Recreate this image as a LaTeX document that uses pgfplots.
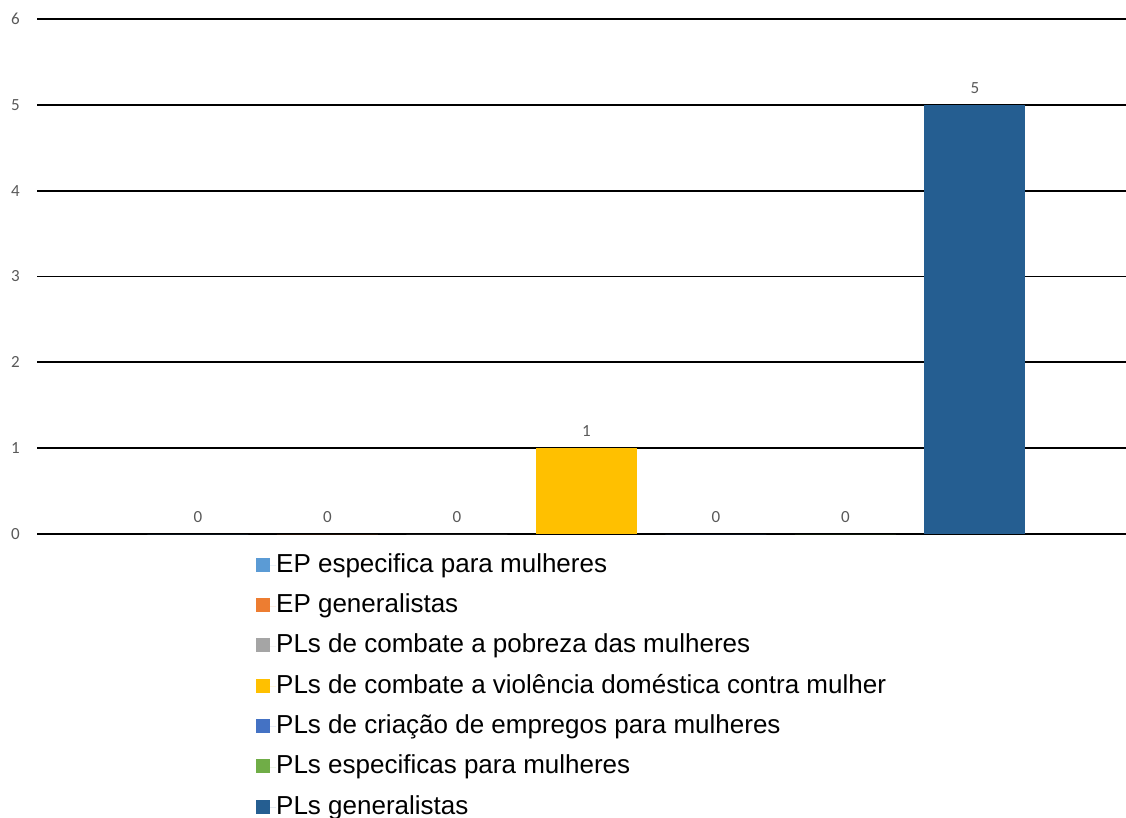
\documentclass[border=0pt]{standalone}
\usepackage{pgfplots}
\pgfplotsset{compat=1.18}
\usepackage{fontspec}
\setmainfont{Liberation Sans}
\newfontfamily\calibri{Carlito}
\definecolor{cA}{HTML}{5B9BD5}
\definecolor{cB}{HTML}{ED7D31}
\definecolor{cC}{HTML}{A5A5A5}
\definecolor{cD}{HTML}{FFC000}
\definecolor{cE}{HTML}{4472C4}
\definecolor{cF}{HTML}{70AD47}
\definecolor{cG}{HTML}{255E91}
\definecolor{labelgrey}{HTML}{595959}
\begin{document}
\begin{tikzpicture}
\useasboundingbox (-37pt,-284pt) rectangle (1089pt,534pt);
\begin{axis}[
  at={(0pt,0pt)}, anchor=south west,
  scale only axis, width=1089pt, height=515pt,
  /pgf/number format/assume math mode=true,
  ymin=0, ymax=6, ytick={0,1,2,3,4,5,6},
  xmin=-1.243, xmax=7.166, xtick=\empty,
  hide obscured y ticks=false,
  ymajorgrids, grid style={black, line width=1.8pt},
  axis line style={draw=none}, major tick length=0pt,
  ybar, bar width=101pt, bar shift=0pt,
  nodes near coords,
  nodes near coords style={font=\calibri\fontsize{17}{19}\selectfont, text=labelgrey, anchor=south, inner sep=0pt, yshift=11pt},
  yticklabel style={font=\calibri\fontsize{17}{19}\selectfont, text=labelgrey, anchor=east, inner sep=0pt, xshift=-17pt},
  legend cell align=left,
  legend style={at={(0.2011,-0.0370)}, anchor=north west, draw=none, fill=none, inner sep=0pt,
    row sep=15.3pt, column sep=0pt,
    nodes={inner sep=0pt, text height=19pt, text depth=6pt, font=\fontsize{26}{30}\selectfont}},
  legend image code/.code={\fill[#1, draw=none] (0pt,-6pt) rectangle (14pt,8pt); \path (0pt,0pt) -- (20pt,0pt);},
]
\addplot[fill=cA, draw=none] coordinates {(0,0)};
\addplot[fill=cB, draw=none] coordinates {(1,0)};
\addplot[fill=cC, draw=none] coordinates {(2,0)};
\addplot[fill=cD, draw=none] coordinates {(3,1)};
\addplot[fill=cE, draw=none] coordinates {(4,0)};
\addplot[fill=cF, draw=none] coordinates {(5,0)};
\addplot[fill=cG, draw=none] coordinates {(6,5)};
\legend{EP especifica para mulheres, EP generalistas, PLs de combate a pobreza das mulheres, PLs de combate a violência doméstica contra mulher, PLs de criação de empregos para mulheres, PLs especificas para mulheres, PLs generalistas}
\end{axis}
\end{tikzpicture}
\end{document}
